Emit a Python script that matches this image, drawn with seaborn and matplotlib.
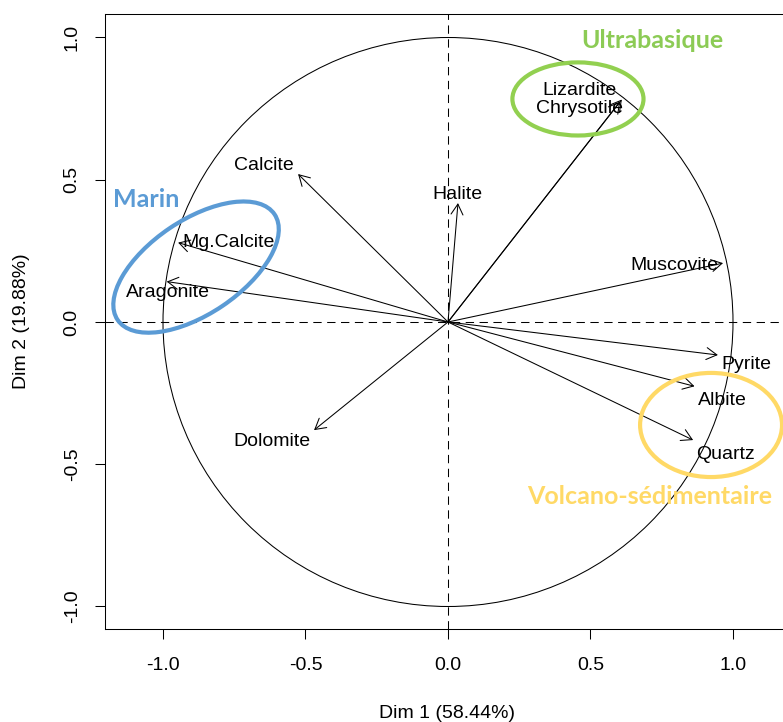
import numpy as np
import matplotlib
matplotlib.use("Agg")
import matplotlib.pyplot as plt
from matplotlib.patches import Ellipse, Circle
from matplotlib.patches import ArrowStyle
import seaborn as sns

# ---------------- data ----------------
variables = ["Lizardite", "Chrysotile", "Calcite", "Halite", "Mg.Calcite", "Aragonite",
             "Muscovite", "Pyrite", "Albite", "Quartz", "Dolomite"]
dim1 = [0.610, 0.604, -0.526, 0.035, -0.947, -0.987, 0.965, 0.947, 0.865, 0.860, -0.470]
dim2 = [0.782, 0.775, 0.520, 0.418, 0.279, 0.142, 0.207, -0.116, -0.226, -0.415, -0.380]
xlabel = "Dim 1 (58.44%)"
ylabel = "Dim 2 (19.88%)"
ticks = [-1.0, -0.5, 0.0, 0.5, 1.0]
groups = ["Ultrabasique", "Marin", "Volcano-sédimentaire"]

# ---------------- style / layout ----------------
sns.set_theme(style="ticks")
plt.rcParams["font.family"] = ["Liberation Sans", "DejaVu Sans"]

# label offsets (pixels: right, up) relative to arrow tips
label_offsets = {
    "Lizardite": (-42, 9), "Chrysotile": (-41, -7), "Calcite": (-34, 9),
    "Halite": (-1, 9), "Mg.Calcite": (50, 0), "Aragonite": (1, -11),
    "Muscovite": (-49, -2), "Pyrite": (28, -10), "Albite": (28, -14),
    "Quartz": (32, -14), "Dolomite": (-42, -11),
}
group_colors = {"Ultrabasique": "#92D050", "Marin": "#5B9BD5", "Volcano-sédimentaire": "#FFD966"}
group_text_colors = {"Ultrabasique": "#8CCB55", "Marin": "#5B9BD5", "Volcano-sédimentaire": "#FFD966"}
# ellipse geometry (center x, center y, width, height, angle) in data units
group_ellipses = {
    "Ultrabasique": (0.456, 0.784, 0.46, 0.257, 0),
    "Marin": (-0.884, 0.193, 0.664, 0.330, 34),
    "Volcano-sédimentaire": (0.923, -0.362, 0.498, 0.366, 0),
}
group_text_pos = {
    "Ultrabasique": (0.716, 0.991),
    "Marin": (-1.060, 0.429),
    "Volcano-sédimentaire": (0.709, -0.615),
}

W, H = 783, 722
fig = plt.figure(figsize=(W / 100, H / 100), dpi=100)
ax = fig.add_axes([105 / W, (H - 629) / H, 684 / W, 615 / H])
ax.set_xlim(-1.2035, 1.1965)
ax.set_ylim(-1.0791, 1.0826)

for s in ax.spines.values():
    s.set_linewidth(0.75)
    s.set_color("black")

# unit circle
ax.add_patch(Circle((0, 0), 1.0, fill=False, lw=0.75, color="black"))
# dashed axes
ax.axhline(0, color="black", lw=0.75, dashes=(8, 5.3))
ax.axvline(0, color="black", lw=0.75, dashes=(8, 5.3))

astyle = ArrowStyle("->", head_length=7.5, head_width=4.3)
for name, x, y in zip(variables, dim1, dim2):
    ax.annotate("", xy=(x, y), xytext=(0, 0),
                arrowprops=dict(arrowstyle=astyle, mutation_scale=1, shrinkA=0, shrinkB=0,
                                lw=0.75, color="black"))
    dx, dy = label_offsets[name]
    ax.annotate(name, xy=(x, y), xytext=(dx * 0.72, dy * 0.72), textcoords="offset points",
                ha="center", va="center", fontsize=14, color="black")

for g in groups:
    cx, cy, w, h, ang = group_ellipses[g]
    ax.add_patch(Ellipse((cx, cy), w, h, angle=ang, fill=False, lw=3,
                         edgecolor=group_colors[g], zorder=3))
    tx, ty = group_text_pos[g]
    ax.text(tx, ty, g, color=group_text_colors[g], fontsize=18, fontweight="bold",
            family=["Lato", "DejaVu Sans"], ha="center", va="center")

ax.set_xticks(ticks)
ax.set_yticks(ticks)
ax.set_xticklabels([f"{t:.1f}" for t in ticks])
ax.set_yticklabels([f"{t:.1f}" for t in ticks], rotation=90, va="center")
ax.tick_params(axis="both", direction="out", length=7.5, width=0.75,
               labelsize=14, color="black", labelcolor="black")
ax.tick_params(axis="x", pad=13)
ax.tick_params(axis="y", pad=10)
ax.set_xlabel(xlabel, fontsize=14, labelpad=22, color="black")
ax.set_ylabel(ylabel, fontsize=14, labelpad=24, color="black")

fig.savefig("out.png", dpi=100)
